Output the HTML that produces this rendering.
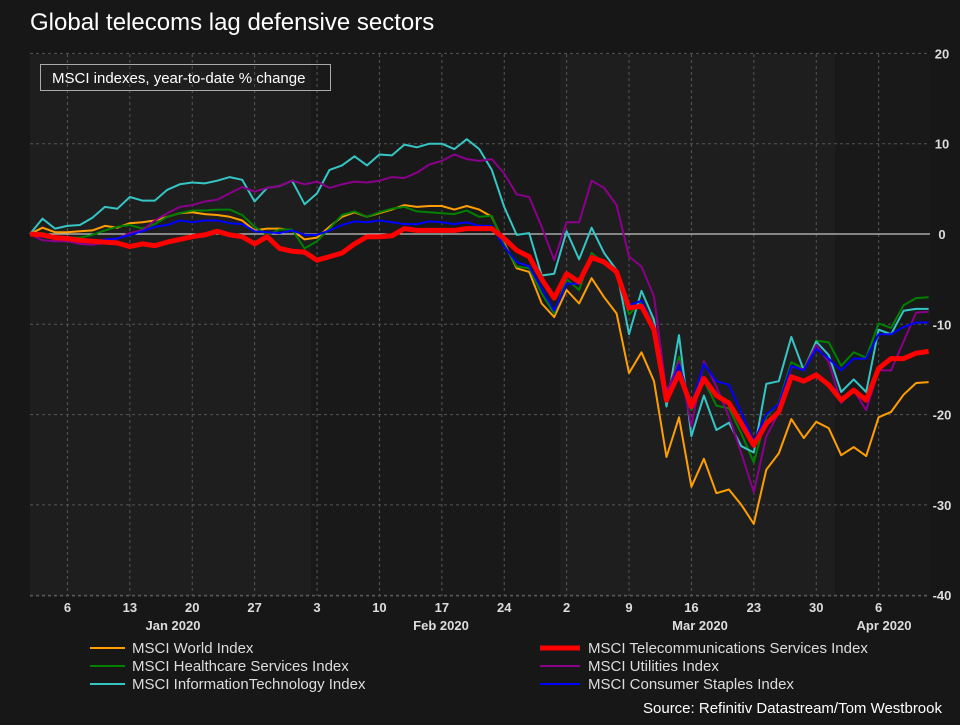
<!DOCTYPE html>
<html><head><meta charset="utf-8"><style>
body{margin:0;background:#171717;width:960px;height:720px;overflow:hidden;font-family:"Liberation Sans",sans-serif;}
svg text{font-family:"Liberation Sans",sans-serif;}
</style></head><body>
<svg id="chart" width="960" height="720" xmlns="http://www.w3.org/2000/svg">
<rect width="960" height="720" fill="#171717"/>
<g id="bands"></g><g id="grid"></g><g id="series"></g><g id="axes"></g>
<text x="30" y="30" fill="#fff" font-size="24">Global telecoms lag defensive sectors</text>
<rect x="40.5" y="64.5" width="290" height="26" fill="none" stroke="#aaa" stroke-width="1"/>
<text x="52" y="83" fill="#fff" font-size="15">MSCI indexes, year-to-date % change</text>
<g id="legend"></g>
<text x="942" y="713" fill="#fff" font-size="15" text-anchor="end">Source: Refinitiv Datastream/Tom Westbrook</text>
</svg>
<script>
const yTicks=[20,10,0,-10,-20,-30,-40];
const weekLabels=["6","13","20","27","3","10","17","24","2","9","16","23","30","6"];
const weekIdx=[3,8,13,18,23,28,33,38,43,48,53,58,63,68];
const monthLabels=["Jan 2020","Feb 2020","Mar 2020","Apr 2020"];
const monthLabelX=[173,441,700,884];
const seriesNames=["MSCI World Index","MSCI Healthcare Services Index","MSCI InformationTechnology Index","MSCI Telecommunications Services Index","MSCI Utilities Index","MSCI Consumer Staples Index"];
const seriesColors=["#ff9e00","#008000","#36c5c5","#ff0000","#8b008b","#0000ff"];
const world=[0,0.7,0.2,0.2,0.3,0.4,0.9,0.7,1.2,1.3,1.5,1.9,2.3,2.4,2.2,2.1,1.9,1.5,0.4,0.6,0.6,0.4,-0.6,-0.4,0.8,1.9,2.4,1.9,2.3,2.7,3.2,3.0,3.1,3.1,2.7,3.1,2.7,1.9,-1.0,-3.8,-4.2,-7.7,-9.2,-6.2,-7.7,-4.9,-7.0,-8.8,-15.4,-13.1,-16.3,-24.7,-20.3,-28,-24.9,-28.7,-28.3,-30,-32.1,-26.1,-24.3,-20.5,-22.6,-20.8,-21.5,-24.5,-23.6,-24.6,-20.3,-19.7,-17.8,-16.5,-16.4];
const health=[0,0.1,-0.3,-0.4,-0.4,-0.1,0.4,0.8,1.0,0.6,1.1,1.9,2.3,2.6,2.6,2.7,2.7,2.1,0.8,-0.1,0.5,0.5,-1.6,-0.8,0.6,2.1,2.5,1.9,2.4,2.8,3.0,2.5,2.4,2.3,2.2,2.6,1.9,2.0,-1.2,-3.6,-3.8,-6.6,-8.8,-5.0,-6.2,-2.1,-3.2,-4.4,-8.9,-7.5,-9.9,-18.4,-13.6,-19.5,-16.2,-19.0,-19.3,-22.1,-25.3,-20.2,-18.7,-14.2,-14.9,-11.8,-12.0,-14.6,-13.1,-13.7,-9.9,-10.4,-7.9,-7.1,-7.0];
const tech=[0,1.7,0.6,0.9,1.0,1.8,3.0,2.8,4.1,3.7,3.7,4.9,5.5,5.7,5.6,5.9,6.3,6.0,3.6,5.1,5.3,5.9,3.3,4.5,7.1,7.6,8.6,7.6,8.8,8.7,9.9,9.6,10.0,10.0,9.4,10.5,9.4,7.1,3.0,-0.1,0.1,-4.6,-4.4,0.3,-2.8,0.7,-2.1,-4.0,-11.1,-6.3,-9.5,-19.1,-11.2,-22.4,-17.9,-21.7,-20.9,-23.5,-24.2,-16.6,-16.3,-11.4,-15.1,-11.9,-13.4,-17.5,-16.1,-17.5,-10.6,-11.1,-8.5,-8.3,-8.3];
const telecom=[0,-0.1,-0.4,-0.5,-0.7,-0.8,-0.9,-1.0,-1.4,-1.1,-1.3,-0.9,-0.6,-0.3,-0.1,0.3,-0.1,-0.3,-1.1,-0.3,-1.6,-1.9,-2.0,-2.9,-2.5,-2.1,-1.1,-0.3,-0.3,-0.2,0.6,0.4,0.4,0.4,0.4,0.6,0.6,0.6,-0.5,-1.8,-2.5,-5.0,-7.1,-4.4,-5.3,-2.6,-3.1,-4.2,-8.2,-8.0,-10.6,-18.4,-15.4,-19.1,-16.0,-17.9,-18.7,-21,-23.4,-21,-19.7,-15.8,-16.3,-15.6,-16.7,-18.4,-17.3,-18.4,-14.9,-13.8,-13.8,-13.2,-13.0];
const util=[0,-0.7,-0.8,-0.8,-1.1,-1.2,-1.0,-0.5,0.1,0.4,1.5,2.3,3.0,3.2,3.6,3.8,4.5,5.2,4.7,5.1,5.3,5.9,5.5,5.8,5.1,5.5,5.8,5.7,5.9,6.3,6.2,6.8,7.7,8.1,8.8,8.3,8.1,8.3,6.7,4.4,4.1,0.8,-2.9,1.3,1.3,5.9,5.1,3.2,-2.5,-3.6,-6.9,-17.6,-14.1,-21.3,-14.1,-16.9,-20.2,-24.3,-28.6,-22.4,-19.8,-14.7,-15.0,-12.3,-14.2,-18.7,-17.3,-19.5,-15.1,-15.1,-11.9,-8.7,-8.6];
const staples=[0,-0.3,-0.4,-0.5,-0.8,-1.0,-0.6,-0.5,-0.1,0.3,0.8,1.0,1.5,1.3,1.5,1.5,1.2,1.1,0.3,0.2,0.1,0.4,-0.1,-0.1,0.4,1.0,1.4,1.3,1.5,1.3,1.1,1.1,1.4,1.3,1.1,1.3,0.9,0.9,-1.4,-3.1,-3.6,-6.0,-8.5,-5.5,-5.5,-2.4,-3.0,-4.1,-7.9,-7.4,-10.2,-18.3,-14.5,-18.9,-14.4,-16.3,-16.7,-19.8,-23,-20.0,-18.8,-14.6,-15.1,-12.7,-13.8,-15.1,-13.8,-13.8,-11.1,-11.1,-10.3,-9.8,-9.8];
const seriesData=[world,health,tech,telecom,util,staples];
const drawOrder=[0,1,2,4,5,3];
const NS="http://www.w3.org/2000/svg";
const X0=30,DX=12.48,Y0=234,PY=9.03,LEFT=30,RIGHT=930,TOP=54,BOTTOM=596;
function xs(i){return X0+i*DX;}
function ys(v){return Y0-v*PY;}
function mk(tag,attrs,parent){const e=document.createElementNS(NS,tag);for(const k in attrs)e.setAttribute(k,attrs[k]);parent.appendChild(e);return e;}
const bands=document.getElementById('bands'),grid=document.getElementById('grid'),ser=document.getElementById('series'),axes=document.getElementById('axes'),leg=document.getElementById('legend');
const bandEdges=[LEFT,311,560,835,RIGHT];
for(let b=0;b<4;b++){const r=mk('rect',{x:bandEdges[b],y:TOP,width:bandEdges[b+1]-bandEdges[b],height:BOTTOM-TOP,fill:b%2===0?'#1e1e1e':'#191919'},bands);

}
yTicks.forEach(v=>{
 if(v!==0){const l=mk('line',{x1:LEFT,x2:RIGHT,y1:ys(v),y2:ys(v),stroke:'#555','stroke-dasharray':'3,3'},grid);
 
 }
 const t=mk('text',{x:942,y:ys(v)+5,fill:'#ddd','font-size':13,'font-weight':'bold','text-anchor':'middle'},axes);t.textContent=v;
 
 
});
weekIdx.forEach((ix,k)=>{
 const l=mk('line',{x1:xs(ix),x2:xs(ix),y1:TOP,y2:BOTTOM,stroke:'#555','stroke-dasharray':'3,3'},grid);
 
 
 const t=mk('text',{x:xs(ix),y:612,fill:'#ddd','font-size':13,'font-weight':'bold','text-anchor':'middle'},axes);t.textContent=weekLabels[k];
 
 
});
monthLabels.forEach((m,k)=>{const t=mk('text',{x:monthLabelX[k],y:630,fill:'#ddd','font-size':13,'font-weight':'bold','text-anchor':'middle'},axes);t.textContent=m;
 
 });
const zl=mk('line',{x1:LEFT,x2:RIGHT,y1:ys(0),y2:ys(0),stroke:'#eee','stroke-width':1},grid);


const bl=mk('line',{x1:LEFT,x2:RIGHT,y1:BOTTOM,y2:BOTTOM,stroke:'#555','stroke-dasharray':'3,3'},grid);


drawOrder.forEach(s=>{
 const pts=seriesData[s].map((v,i)=>xs(i).toFixed(1)+','+ys(v).toFixed(1)).join(' ');
 const p=mk('polyline',{points:pts,fill:'none',stroke:seriesColors[s],'stroke-width':s===3?5:2,'stroke-linejoin':'round'},ser);
 
 
});
const legX=[90,540],legY=[648,666,684];
const legPos=[[0,0],[0,1],[0,2],[1,0],[1,1],[1,2]];
seriesNames.forEach((n,s)=>{
 const c=legPos[s][0],r=legPos[s][1];
 const l=mk('line',{x1:legX[c],x2:legX[c]+(c?40:35),y1:legY[r],y2:legY[r],stroke:seriesColors[s],'stroke-width':s===3?5:2},leg);
 
 
 const t=mk('text',{x:legX[c]+(c?48:42),y:legY[r]+5,fill:'#ddd','font-size':15},leg);t.textContent=n;
 
 
});
</script>
</body></html>
